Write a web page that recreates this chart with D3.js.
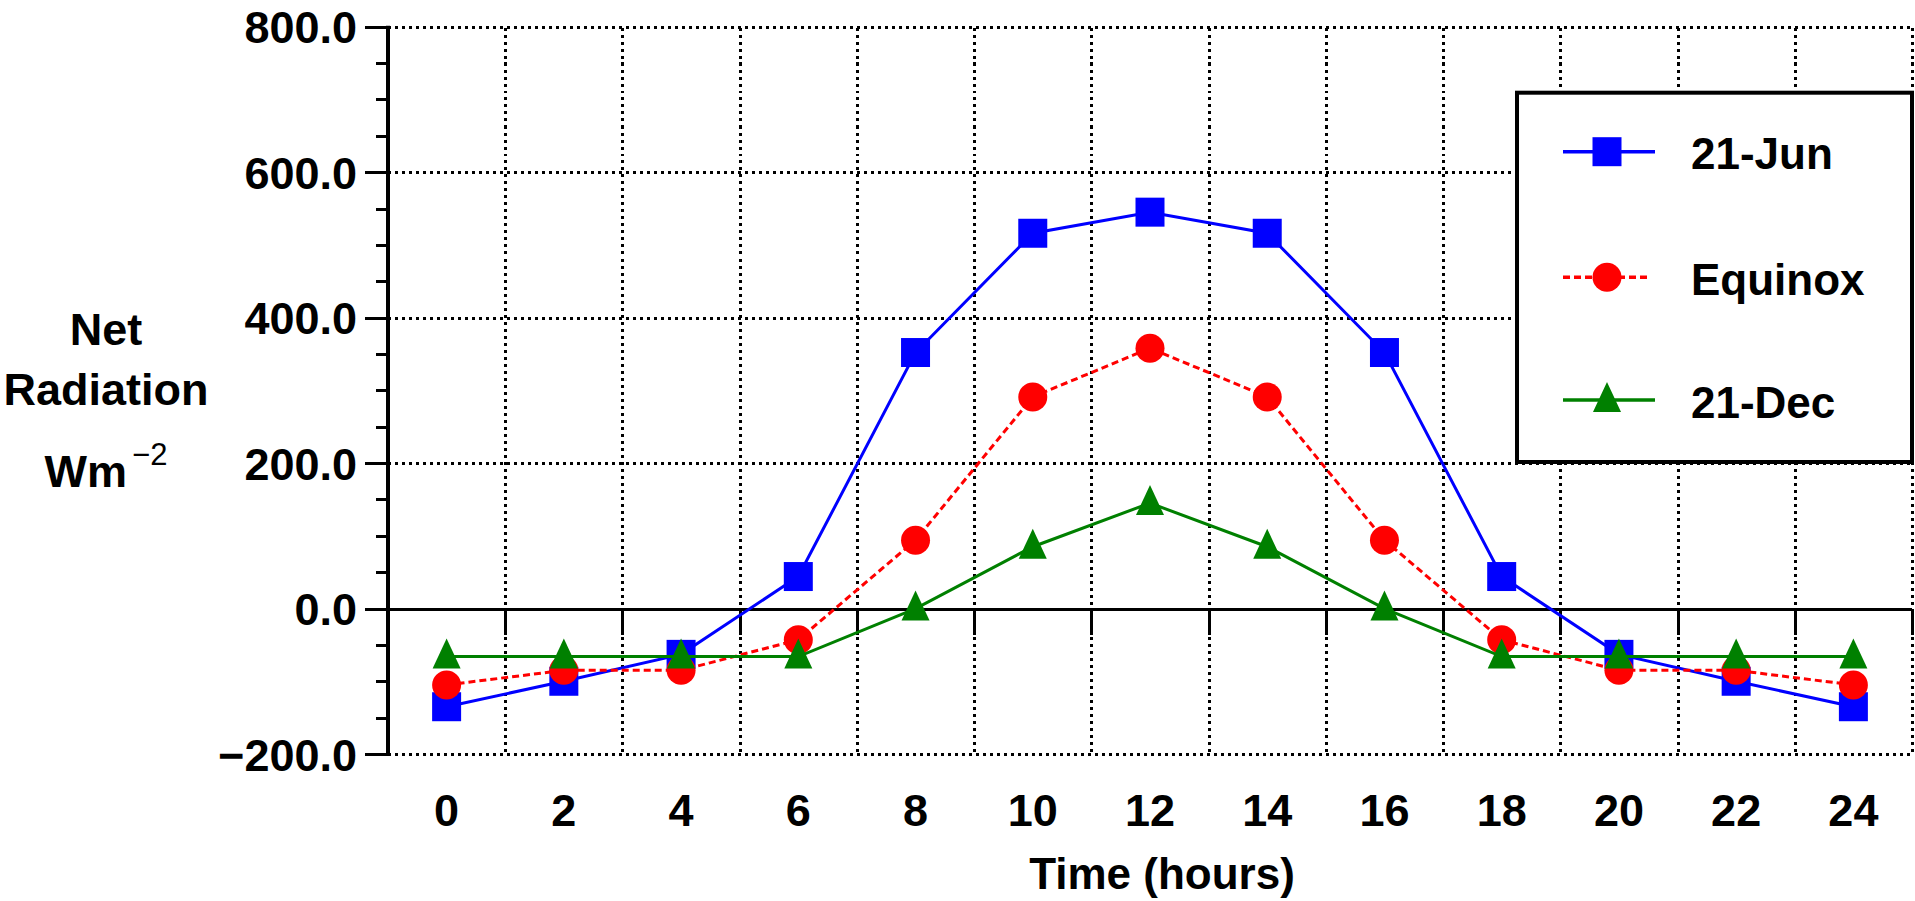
<!DOCTYPE html>
<html><head><meta charset="utf-8">
<script src="https://cdn.jsdelivr.net/npm/d3@7"></script>
<style>
body{margin:0;background:#fff;}
svg{display:block;background:#fff;}
text{font-family:"Liberation Sans",Arial,sans-serif;font-weight:bold;fill:#000;}
</style>
</head><body>
<svg id="chart" width="1915" height="901"></svg>
<script>
// ---- data ----
const hours = [0,2,4,6,8,10,12,14,16,18,20,22,24];
const jun = [-135,-100,-63,44,352,516,545,516,352,44,-63,-100,-135];
const equinox = [-105,-85,-85,-43,94,291,358,291,94,-43,-85,-85,-105];
const dec = [-66,-66,-66,-66,0,85,145,85,0,-66,-66,-66,-66];
const seriesNames = ["21-Jun","Equinox","21-Dec"];
const yMajorTicks = [-200,0,200,400,600,800];
const yMinorTicks = [-150,-100,-50,50,100,150,250,300,350,450,500,550,650,700,750];
const xTitle = "Time (hours)";
const yTitleLines = ["Net","Radiation"];

// ---- layout ----
const svg = d3.select("#chart");
const pLeft = 388, pRight = 1912, pTop = 26.7, pBottom = 754;
const x = d3.scaleBand().domain(hours).range([pLeft,pRight]).paddingInner(0).paddingOuter(0);
const y = d3.scaleLinear().domain([-200,800]).range([pBottom,pTop]);
const cx = h => x(h) + x.bandwidth()/2;
const crisp = v => Math.round(v) + 0.5;

const styles = [
  {color:"#0000ff", dash:null, symbol:"square"},
  {color:"#ff0000", dash:"7,4", symbol:"circle"},
  {color:"#008000", dash:null, symbol:"triangle"}
];
const series = [jun, equinox, dec].map((vals,i)=>({name:seriesNames[i], values:vals, ...styles[i]}));

const triangleType = {
  draw(ctx, size){ ctx.moveTo(0,-18); ctx.lineTo(14,12); ctx.lineTo(-14,12); ctx.closePath(); }
};
function symbolPath(kind){
  if(kind==="square") return d3.symbol(d3.symbolSquare, 29*29)();
  if(kind==="circle") return d3.symbol(d3.symbolCircle, Math.PI*14.5*14.5)();
  return d3.symbol(triangleType, 1)();
}

const dotted = "3,4";
const g = svg.append("g").attr("shape-rendering","crispEdges");

// horizontal gridlines
g.append("g").selectAll("line").data(yMajorTicks.filter(v=>v!==0)).join("line")
  .attr("x1",pLeft).attr("x2",pRight).attr("y1",d=>crisp(y(d))).attr("y2",d=>crisp(y(d)))
  .attr("stroke","#000").attr("stroke-width",3).attr("stroke-dasharray",dotted);

// vertical gridlines at category boundaries
const boundaries = hours.map(h => x(h) + x.bandwidth());
g.append("g").selectAll("line").data(boundaries).join("line")
  .attr("x1",d=>crisp(d)).attr("x2",d=>crisp(d)).attr("y1",crisp(y(800))).attr("y2",crisp(y(-200)))
  .attr("stroke","#000").attr("stroke-width",3).attr("stroke-dasharray",dotted);

// zero line + category ticks
g.append("line").attr("x1",pLeft).attr("x2",pRight).attr("y1",crisp(y(0))).attr("y2",crisp(y(0)))
  .attr("stroke","#000").attr("stroke-width",3);
g.append("g").selectAll("line").data(boundaries).join("line")
  .attr("x1",d=>crisp(d)).attr("x2",d=>crisp(d)).attr("y1",crisp(y(0))).attr("y2",crisp(y(0))+25)
  .attr("stroke","#000").attr("stroke-width",3);

// y axis
const yAxis = d3.axisLeft(y).tickValues(yMajorTicks).tickFormat(d3.format(".1f")).tickSize(23).tickPadding(8);
const ya = svg.append("g").attr("transform",`translate(${pLeft},0)`).call(yAxis);
ya.select(".domain").attr("stroke-width",4).attr("d",`M0,${y(800)-1}V${y(-200)+1.5}`);
ya.selectAll(".tick line").attr("stroke-width",3).attr("shape-rendering","crispEdges");
ya.selectAll(".tick text").style("font-size","45px").attr("font-family",null).attr("dy","0.36em");
const yMinor = d3.axisLeft(y).tickValues(yMinorTicks).tickFormat("").tickSize(12);
const ym = svg.append("g").attr("transform",`translate(${pLeft},0)`).call(yMinor);
ym.select(".domain").remove();
ym.selectAll(".tick line").attr("stroke-width",3).attr("shape-rendering","crispEdges");

// x labels
const xAxis = d3.axisBottom(x).tickSize(0).tickPadding(0);
const xa = svg.append("g").attr("transform",`translate(0,794)`).call(xAxis);
xa.select(".domain").remove();
xa.selectAll(".tick text").style("font-size","45px").attr("font-family",null).attr("dy","0.72em");

// series
series.forEach(s=>{
  const line = d3.line().x((d,i)=>cx(hours[i])).y(d=>y(d));
  svg.append("path").datum(s.values).attr("d",line)
    .attr("fill","none").attr("stroke",s.color).attr("stroke-width",3)
    .attr("stroke-dasharray",s.dash);
  svg.append("g").selectAll("path").data(s.values).join("path")
    .attr("d",symbolPath(s.symbol))
    .attr("transform",(d,i)=>`translate(${cx(hours[i])},${y(d)})`)
    .attr("fill",s.color);
});

// legend
const lg = svg.append("g");
lg.append("rect").attr("x",1517).attr("y",92.7).attr("width",1912-1517).attr("height",462-92.7)
  .attr("fill","#fff").attr("stroke","#000").attr("stroke-width",4);
const legendRowsY = [151.7, 277.3, 400];
series.forEach((s,i)=>{
  const yy = legendRowsY[i];
  lg.append("line").attr("x1",1563).attr("x2",s.dash?1647:1655).attr("y1",yy).attr("y2",yy)
    .attr("stroke",s.color).attr("stroke-width",3.5).attr("stroke-dasharray",s.dash);
  lg.append("path").attr("d",symbolPath(s.symbol)).attr("transform",`translate(1607,${yy})`).attr("fill",s.color);
  lg.append("text").attr("x",1691).attr("y",yy+17.5).style("font-size","44px").text(s.name);
});

// axis titles
svg.append("text").attr("x",1162).attr("y",889).attr("text-anchor","middle").style("font-size","44px").text(xTitle);
yTitleLines.forEach((t,i)=>{
  svg.append("text").attr("x",106).attr("y",[345,405][i]).attr("text-anchor","middle").style("font-size","45px").text(t);
});
const wm = svg.append("text").attr("x",106).attr("y",487).attr("text-anchor","middle").style("font-size","45px");
wm.append("tspan").text("Wm");
wm.append("tspan").attr("dx",5).attr("dy",-22).style("font-size","31px").style("font-weight","normal").text("\u22122");
</script>
</body></html>
